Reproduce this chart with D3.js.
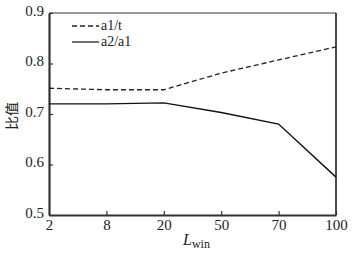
<!DOCTYPE html>
<html>
<head>
<meta charset="utf-8">
<script src="https://cdn.jsdelivr.net/npm/d3@7"></script>
<style>
  html, body { margin: 0; padding: 0; background: #fff; }
  .serif { font-family: "Liberation Serif", serif !important; }
</style>
</head>
<body>
<div id="chart"></div>
<script>
"use strict";

const categories = ["2", "8", "20", "50", "70", "100"];
const seriesNames = ["a1/t", "a2/a1"];
const a1tValues = [0.751, 0.748, 0.748, 0.781, 0.807, 0.833];
const a2a1Values = [0.72, 0.72, 0.722, 0.703, 0.68, 0.575];
const yTicks = [0.5, 0.6, 0.7, 0.8, 0.9];

(function renderChart() {
  const width = 364;
  const height = 257;
  const margin = { top: 13, right: 28, bottom: 42, left: 49 };
  const innerW = width - margin.left - margin.right;
  const innerH = height - margin.top - margin.bottom;

  const svg = d3
    .select("#chart")
    .append("svg")
    .attr("width", width)
    .attr("height", height);

  const g = svg.append("g").attr("transform", `translate(${margin.left},${margin.top})`);

  const x = d3.scalePoint().domain(categories).range([0, innerW]);
  const y = d3.scaleLinear().domain([0.5, 0.9]).range([innerH, 0]);

  // frame: top grey, right black
  g.append("line")
    .attr("x1", 0).attr("x2", innerW).attr("y1", 0).attr("y2", 0)
    .attr("stroke", "#7a7a7a").attr("stroke-width", 1.6);
  g.append("line")
    .attr("x1", innerW).attr("x2", innerW).attr("y1", 0).attr("y2", innerH)
    .attr("stroke", "#111").attr("stroke-width", 1.5);

  const xAxis = g
    .append("g")
    .attr("transform", `translate(0,${innerH})`)
    .call(d3.axisBottom(x).tickSizeInner(-4).tickSizeOuter(0).tickPadding(6));
  xAxis.select(".domain").attr("stroke", "#333").attr("stroke-width", 2.2);
  xAxis.selectAll(".tick line").attr("stroke", "#333").attr("stroke-width", 1.2);
  xAxis.selectAll(".tick text")
    .attr("class", "serif").attr("font-size", 15).attr("fill", "#222").attr("dy", "0.6em");

  const yAxis = g
    .append("g")
    .call(
      d3.axisLeft(y).tickValues(yTicks).tickFormat(d3.format(".1f"))
        .tickSizeInner(-4).tickSizeOuter(0).tickPadding(5)
    );
  yAxis.select(".domain").attr("stroke", "#333").attr("stroke-width", 2.2);
  yAxis.selectAll(".tick line").attr("stroke", "#333").attr("stroke-width", 1.2);
  yAxis.selectAll(".tick text")
    .attr("class", "serif").attr("font-size", 15).attr("fill", "#222").attr("dy", "0.15em");

  const line = d3.line().x((d, i) => x(categories[i])).y((d) => y(d));

  g.append("path")
    .datum(a1tValues)
    .attr("d", line)
    .attr("fill", "none")
    .attr("stroke", "#222")
    .attr("stroke-width", 1.3)
    .attr("stroke-dasharray", "5,3");

  g.append("path")
    .datum(a2a1Values)
    .attr("d", line)
    .attr("fill", "none")
    .attr("stroke", "#111")
    .attr("stroke-width", 1.4);

  // legend
  const legend = g.append("g").attr("transform", "translate(23,13)");
  seriesNames.forEach((name, i) => {
    const row = legend.append("g").attr("transform", `translate(0,${i * 16})`);
    row.append("line")
      .attr("x1", 0).attr("x2", 27).attr("y1", 0).attr("y2", 0)
      .attr("stroke", "#222").attr("stroke-width", 1.3)
      .attr("stroke-dasharray", i === 0 ? "5,3" : null);
    row.append("text")
      .attr("class", "serif")
      .attr("x", 29).attr("y", 0).attr("dy", "0.32em")
      .attr("font-size", 14)
      .attr("fill", "#222")
      .text(name);
  });

  // axis titles
  const xTitle = svg.append("text")
    .attr("class", "serif")
    .attr("x", 183).attr("y", 245)
    .attr("fill", "#222")
    .attr("font-size", 16);
  xTitle.append("tspan").attr("font-style", "italic").text("L");
  xTitle.append("tspan").attr("font-size", 12).attr("dy", 3).text("win");

  svg.append("text")
    .attr("transform", "translate(17,116) rotate(-90)")
    .attr("text-anchor", "middle")
    .attr("font-size", 14)
    .attr("fill", "#222")
    .attr("font-family", "Noto Sans CJK SC")
    .text("比值");
})();
</script>
</body>
</html>
